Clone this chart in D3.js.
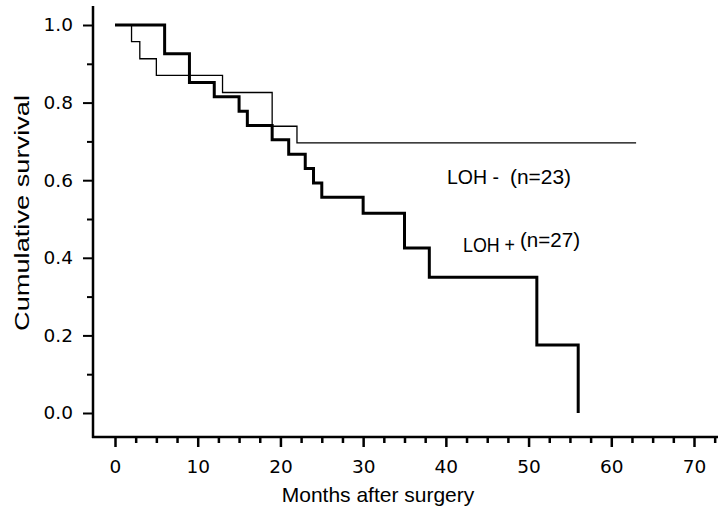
<!DOCTYPE html>
<html>
  <head>
    <meta charset="utf-8">
    <title>Cumulative survival</title>
    <script type="text/javascript" src="https://cdn.jsdelivr.net/npm/d3@7"></script>
    <style type='text/css'>
      body { margin: 0; background: white; }
      text { fill: black; }
    </style>
  </head>
  <body>
    <script type="text/javascript">
      var w = 720;
      var h = 512;

      // LOH + (n=27), thick line
      var posMonths = [0, 6, 9, 12, 15, 16, 19, 21, 23, 24, 25, 30, 35, 38, 51, 56];
      var posSurv = [1.0, 0.926, 0.852, 0.815, 0.778, 0.741, 0.704, 0.667, 0.630, 0.593, 0.556, 0.515, 0.425, 0.35, 0.175, 0];
      // LOH - (n=23), thin line
      var negMonths = [0, 2, 3, 5, 13, 19, 22, 63];
      var negSurv = [1.0, 0.957, 0.913, 0.870, 0.826, 0.739, 0.696, 0.696];

      var xTicks = [0, 10, 20, 30, 40, 50, 60, 70];
      var yTicks = [0, 0.2, 0.4, 0.6, 0.8, 1.0];

      var x = d3.scaleLinear().domain([0, 70]).range([115, 694]);
      var y = d3.scaleLinear().domain([0, 1]).range([413, 25]);

      var axisX = 93, axisY = 437;

      var svg = d3.select('body')
                  .append('svg')
                  .attr('width', w)
                  .attr('height', h);

      // axis lines
      svg.append('line')
        .attr('x1', axisX).attr('y1', 6).attr('x2', axisX).attr('y2', axisY + 1)
        .attr('stroke', 'black').attr('stroke-width', 2.5);
      svg.append('line')
        .attr('x1', axisX - 1).attr('y1', axisY).attr('x2', 718).attr('y2', axisY)
        .attr('stroke', 'black').attr('stroke-width', 2.5);

      // x ticks (major + minor every 2.5)
      var xMinor = d3.range(0, 73, 2.5).filter(function(d) {return d % 10 !== 0;});
      var gx = svg.append('g').attr('transform', 'translate(0,' + axisY + ')');
      gx.call(d3.axisBottom(x).tickValues(xMinor).tickSize(6).tickSizeOuter(0).tickFormat(''));
      gx.select('.domain').remove();
      var gx2 = svg.append('g').attr('transform', 'translate(0,' + axisY + ')');
      gx2.call(d3.axisBottom(x).tickValues(xTicks).tickSize(10).tickPadding(13).tickSizeOuter(0).tickFormat(d3.format('d')));
      gx2.select('.domain').remove();
      svg.selectAll('.tick line').attr('stroke', 'black').attr('stroke-width', 2.5);
      gx2.selectAll('text')
        .attr('font-family', 'DejaVu Sans, sans-serif')
        .attr('font-size', '18.5px')
        .attr('fill', 'black');

      // y ticks (major 0.2 + minor 0.1)
      var yMinor = [0.1, 0.3, 0.5, 0.7, 0.9];
      var gy = svg.append('g').attr('transform', 'translate(' + axisX + ',0)');
      gy.call(d3.axisLeft(y).tickValues(yMinor).tickSize(6).tickSizeOuter(0).tickFormat(''));
      gy.select('.domain').remove();
      var gy2 = svg.append('g').attr('transform', 'translate(' + axisX + ',0)');
      gy2.call(d3.axisLeft(y).tickValues(yTicks).tickSize(10).tickPadding(10).tickSizeOuter(0).tickFormat(d3.format('.1f')));
      gy2.select('.domain').remove();
      gy.selectAll('.tick line').attr('stroke', 'black').attr('stroke-width', 2);
      gy2.selectAll('.tick line').attr('stroke', 'black').attr('stroke-width', 2);
      gy2.selectAll('text')
        .attr('font-family', 'DejaVu Sans, sans-serif')
        .attr('font-size', '18.5px')
        .attr('fill', 'black');

      // survival curves
      var line = d3.line()
        .x(function(d) {return x(d[0]);})
        .y(function(d) {return y(d[1]);})
        .curve(d3.curveStepAfter);

      svg.append('path')
        .datum(d3.zip(negMonths, negSurv))
        .attr('d', line)
        .attr('fill', 'none')
        .attr('stroke', 'black')
        .attr('stroke-width', 1.3);

      svg.append('path')
        .datum(d3.zip(posMonths, posSurv))
        .attr('d', line)
        .attr('fill', 'none')
        .attr('stroke', 'black')
        .attr('stroke-width', 3);

      // curve labels (the original type is a bit condensed)
      var labels = [
        {t: 'LOH -', x: 447, y: 184, s: 20, len: 52},
        {t: '(n=23)', x: 510, y: 184, s: 20, len: 61},
        {t: 'LOH +', x: 463, y: 252, s: 20, len: 52},
        {t: '(n=27)', x: 520, y: 247, s: 20, len: 60}
      ];
      svg.selectAll('text.lbl')
        .data(labels)
        .enter()
        .append('text')
        .attr('class', 'lbl')
        .text(function(d) {return d.t;})
        .attr('x', function(d) {return d.x;})
        .attr('y', function(d) {return d.y;})
        .attr('textLength', function(d) {return d.len;})
        .attr('lengthAdjust', 'spacingAndGlyphs')
        .attr('font-family', 'Liberation Sans, Arial, sans-serif')
        .attr('font-size', function(d) {return d.s + 'px';});

      // axis titles
      svg.append('text')
        .text('Months after surgery')
        .attr('x', 378)
        .attr('y', 502)
        .attr('text-anchor', 'middle')
        .attr('font-family', 'Liberation Sans, Arial, sans-serif')
        .attr('font-size', '21px');

      svg.append('text')
        .text('Cumulative survival')
        .attr('transform', 'translate(29,213) rotate(-90)')
        .attr('text-anchor', 'middle')
        .attr('textLength', 236)
        .attr('lengthAdjust', 'spacingAndGlyphs')
        .attr('font-family', 'Liberation Sans, Arial, sans-serif')
        .attr('font-size', '21px');
    </script>
  </body>
</html>
